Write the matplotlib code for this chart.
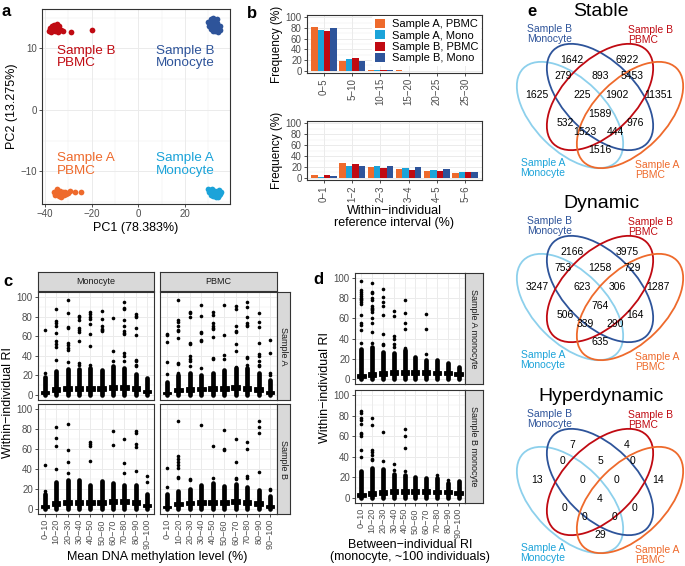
import matplotlib
import numpy as np

matplotlib.use("Agg")
import matplotlib.pyplot as plt
from matplotlib.patches import Ellipse, Patch

W, H = 685, 566

plt.rcParams.update(
    {
        "font.family": ["Liberation Sans", "DejaVu Sans"],
        "axes.linewidth": 0.8,
        "axes.edgecolor": "#333333",
        "xtick.color": "#333333",
        "ytick.color": "#333333",
        "xtick.labelcolor": "#4D4D4D",
        "ytick.labelcolor": "#4D4D4D",
        "xtick.major.size": 2.2,
        "ytick.major.size": 2.2,
        "xtick.major.width": 0.6,
        "ytick.major.width": 0.6,
        "xtick.major.pad": 1.5,
        "ytick.major.pad": 1.5,
    }
)

C_APBMC = "#EE6A2C"
C_AMONO = "#1BA3D9"
C_BPBMC = "#C00A12"
C_BMONO = "#2E549A"
GRID = "#EBEBEB"
STRIP = "#D9D9D9"

# ---- panel a: PCA scores ----
pc_bpbmc_x = [-38.5, -38.0, -37.4, -37.0, -36.6, -36.2, -35.8, -35.3, -35.0, -34.6, -34.2, -33.8, -33.2, -32.5, -29.0, -20.0]
pc_bpbmc_y = [12.9, 13.3, 12.6, 13.6, 13.0, 13.8, 12.8, 13.4, 13.9, 12.7, 13.2, 13.6, 13.0, 12.8, 12.6, 13.0]
pc_bmono_x = [30.0, 30.5, 31.0, 31.2, 31.6, 32.0, 32.3, 32.7, 33.0, 33.3, 33.6, 34.0, 34.3, 34.8, 35.2, 31.8, 33.8]
pc_bmono_y = [14.3, 13.6, 14.7, 13.1, 14.0, 15.0, 13.4, 14.4, 12.8, 13.9, 14.8, 13.2, 12.6, 13.7, 13.0, 12.9, 14.1]
pc_apbmc_x = [-36.2, -35.6, -35.0, -34.5, -34.0, -33.6, -33.0, -32.5, -32.0, -31.5, -31.0, -30.2, -29.5, -27.0, -24.5, -34.8, -33.3]
pc_apbmc_y = [-13.3, -13.8, -13.1, -13.6, -14.0, -13.2, -13.7, -13.4, -13.9, -13.3, -13.6, -13.5, -13.2, -13.4, -13.3, -12.9, -14.1]
pc_amono_x = [29.8, 30.4, 30.9, 31.3, 31.8, 32.2, 32.6, 33.0, 33.4, 33.8, 34.2, 34.6, 35.0, 35.3, 31.5, 33.2, 34.4]
pc_amono_y = [-12.9, -13.4, -13.1, -13.8, -13.3, -14.0, -13.6, -13.2, -13.9, -13.5, -14.1, -13.0, -13.7, -13.4, -12.8, -14.2, -13.9]

# ---- panel b: frequency of within-individual RI ----
b_groups = ["Sample A, PBMC", "Sample A, Mono", "Sample B, PBMC", "Sample B, Mono"]
b_colors = [C_APBMC, C_AMONO, C_BPBMC, C_BMONO]
b_top_bins = ["0\u22125", "5\u221210", "10\u221215", "15\u221220", "20\u221225", "25\u221230"]
b_top_vals = [
    [81, 18, 2, 1.0, 0.4, 0.1],
    [76, 22, 2, 0.6, 0.5, 0.2],
    [75, 24, 2, 0.6, 0.3, 0.0],
    [79, 19, 2, 0.6, 0.5, 0.3],
]
b_bot_bins = ["0\u22121", "1\u22122", "2\u22123", "3\u22124", "4\u22125", "5\u22126"]
b_bot_vals = [
    [5, 27, 20, 16, 12, 8],
    [2, 21, 22, 18, 14, 10],
    [5, 25, 18, 14, 12, 10],
    [3, 21, 22, 19, 16, 10],
]

# ---- panel c: RI by mean methylation level (box summaries) ----
c_bins = ["0\u221210", "10\u221220", "20\u221230", "30\u221240", "40\u221250",
          "50\u221260", "60\u221270", "70\u221280", "80\u221290", "90\u2212100"]
mono_a_q1 = [1, 3, 4, 4, 4, 4, 5, 5, 4, 2]
mono_a_med = [2, 5, 6, 6, 6, 6, 7, 7, 6, 3]
mono_a_q3 = [4, 8, 9, 9, 9, 9, 10, 10, 9, 5]
mono_a_top = [18, 25, 27, 27, 28, 26, 30, 28, 21, 17]
mono_a_out = [[66, 23], [88, 75, 73, 70, 63, 55, 52, 49, 36], [97, 84, 69, 68, 53, 51, 48, 46, 34],
              [81, 80, 76, 68, 66, 64, 55, 33, 31], [85, 83, 80, 77, 72, 62, 50, 31], [86, 78, 70, 67, 66, 65],
              [79, 45, 35], [95, 89, 88, 76, 70, 65, 63, 62, 43, 40, 35], [83, 81, 80, 68, 61, 36, 35, 31, 30], []]

pbmc_a_q1 = [1, 3, 3, 4, 4, 4, 5, 4, 3, 1]
pbmc_a_med = [2, 4, 5, 6, 6, 6, 7, 6, 5, 2]
pbmc_a_q3 = [3, 7, 8, 8, 9, 9, 10, 9, 8, 4]
pbmc_a_top = [13, 20, 22, 20, 22, 26, 28, 28, 23, 15]
pbmc_a_out = [[62, 61, 54, 34, 21], [97, 76, 74, 70, 66, 65, 58, 33, 32, 23], [85, 84, 80, 53, 52, 40, 37, 35, 30],
              [92, 81, 64, 63, 56, 55, 28], [85, 82, 73, 70, 68, 67, 59, 38, 37], [92, 61, 41, 37],
              [91, 88, 70, 65, 64, 52, 45, 29], [95, 90, 80, 73, 71, 70, 39, 38, 31],
              [84, 74, 69, 53, 42, 40, 35, 31, 30], [56, 43, 23, 20]]

mono_b_q1 = [1, 3, 4, 4, 4, 4, 5, 5, 4, 2]
mono_b_med = [2, 5, 6, 6, 6, 6, 7, 7, 6, 3]
mono_b_q3 = [4, 8, 9, 9, 9, 9, 10, 10, 9, 5]
mono_b_top = [15, 27, 29, 29, 24, 28, 26, 24, 24, 15]
mono_b_out = [[44, 18], [82, 71, 63, 40], [85, 59, 47, 36], [], [67, 65, 63, 48], [],
              [78, 64], [70, 46, 36], [78, 76, 65, 62, 38], [33, 27]]

pbmc_b_q1 = [1, 3, 4, 4, 4, 4, 5, 4, 3, 1]
pbmc_b_med = [2, 5, 6, 6, 6, 7, 7, 6, 5, 2]
pbmc_b_q3 = [3, 7, 8, 9, 9, 9, 10, 9, 8, 4]
pbmc_b_top = [15, 18, 20, 24, 26, 23, 25, 22, 19, 13]
pbmc_b_out = [[41, 22], [88, 53, 50, 47, 44, 41, 32, 31], [30, 29], [84], [63, 31], [79, 60, 59],
              [70, 47, 31, 30], [67, 60, 33, 31], [88, 82, 76, 37], [20, 19]]

# ---- panel d: RI by between-individual RI (monocyte) ----
d_a_q1 = [1, 2, 3, 4, 4, 4, 4, 4, 4, 3]
d_a_med = [3, 4, 5, 6, 6, 6, 6, 6, 6, 5]
d_a_q3 = [5, 7, 8, 9, 9, 9, 9, 8, 8, 7]
d_a_top = [30, 32, 27, 26, 29, 22, 19, 19, 16, 12]
d_a_out = [[97, 88, 86, 84, 82, 80, 79, 78, 76, 74, 63, 55, 53, 49, 36],
           [95, 86, 85, 80, 78, 72, 70, 69, 68, 66, 60, 55, 47, 36],
           [89, 81, 76, 72, 63, 45, 35, 34], [67, 62, 43, 40, 35, 32], [78, 65, 55, 50, 31], [],
           [64, 50, 25], [], [], []]
d_b_q1 = [1, 2, 3, 4, 4, 4, 4, 4, 4, 3]
d_b_med = [3, 4, 5, 6, 6, 6, 6, 6, 6, 5]
d_b_q3 = [5, 7, 8, 9, 9, 9, 9, 8, 8, 7]
d_b_top = [26, 29, 28, 23, 22, 20, 19, 19, 14, 16]
d_b_out = [[85, 83, 78, 76, 72, 63, 62, 60, 47, 40], [78, 71, 47, 45, 42, 38, 37], [64, 36], [33, 27],
           [67, 60, 49, 26], [], [], [22], [17], []]

# ---- panel e: Venn region counts (same region order for each diagram) ----
venn_titles = ["Stable", "Dynamic", "Hyperdynamic"]
venn_stable = [1642, 6922, 279, 893, 5453, 1625, 225, 1902, 11351, 1589, 532, 976, 1523, 444, 1516]
venn_dynamic = [2166, 3975, 753, 1258, 729, 3247, 623, 306, 1287, 764, 506, 164, 339, 290, 635]
venn_hyper = [7, 4, 0, 5, 0, 13, 0, 0, 14, 4, 0, 0, 0, 0, 29]


def px_axes(x0, y0, x1, y1):
    return fig.add_axes([x0 / W, 1 - y1 / H, (x1 - x0) / W, (y1 - y0) / H])


def ftext(x, y, s, **kw):
    fig.text(x / W, 1 - y / H, s, **kw)


def gg_style(ax):
    ax.set_facecolor("white")
    ax.set_axisbelow(True)
    ax.grid(True, which="major", color=GRID, lw=0.7)
    ax.grid(True, which="minor", color=GRID, lw=0.35)
    ax.tick_params(labelsize=7)
    ax.tick_params(which="minor", length=0)


def strip(x0, y0, x1, y1, label, rot=0):
    s = px_axes(x0, y0, x1, y1)
    s.set_facecolor(STRIP)
    s.set_xticks([])
    s.set_yticks([])
    s.text(0.5, 0.5, label, ha="center", va="center", rotation=rot, fontsize=6.5,
           color="#1A1A1A", transform=s.transAxes)


def box_panel(ax, q1, med, q3, top, out, ylab=True, xlab=True, labels=None):
    stats = []
    for i in range(len(med)):
        stats.append(dict(med=med[i], q1=q1[i], q3=q3[i], whislo=0, whishi=top[i],
                          fliers=np.array(out[i], dtype=float)))
    ax.bxp(stats, positions=range(1, len(med) + 1), widths=0.75, patch_artist=True,
           showcaps=False, manage_ticks=False,
           boxprops=dict(facecolor="black", edgecolor="black", lw=0.6),
           medianprops=dict(color="black", lw=1),
           whiskerprops=dict(color="black", lw=3.4, solid_capstyle="round"),
           flierprops=dict(marker="o", markersize=2.6, markerfacecolor="black",
                           markeredgecolor="none"))
    gg_style(ax)
    ax.set_xlim(0.4, len(med) + 0.6)
    ax.set_ylim(-5, 105)
    ax.set_xticks(range(1, len(med) + 1))
    ax.set_yticks(range(0, 101, 20))
    ax.set_yticks(range(10, 100, 20), minor=True)
    if xlab:
        ax.set_xticklabels(labels, rotation=90, fontsize=6.5)
    else:
        ax.tick_params(axis="x", length=0, labelbottom=False)
    if not ylab:
        ax.tick_params(axis="y", length=0, labelleft=False)


fig = plt.figure(figsize=(W / 100, H / 100), dpi=100)

# ================= a =================
ax = px_axes(42, 9, 230, 204)
for xs, ys, col in [(pc_bpbmc_x, pc_bpbmc_y, C_BPBMC), (pc_bmono_x, pc_bmono_y, C_BMONO),
                    (pc_apbmc_x, pc_apbmc_y, C_APBMC), (pc_amono_x, pc_amono_y, C_AMONO)]:
    ax.scatter(xs, ys, s=17, color=col, lw=0, zorder=3)
gg_style(ax)
ax.set_xlim(-41.3, 39.3)
ax.set_ylim(-15.3, 16.4)
ax.set_xticks([-40, -20, 0, 20])
ax.set_xticklabels(["\u221240", "\u221220", "0", "20"])
ax.set_xticks([-30, -10, 10, 30], minor=True)
ax.set_yticks([-10, 0, 10])
ax.set_yticklabels(["\u221210", "0", "10"])
ax.set_yticks([-15, -5, 5, 15], minor=True)
ax.set_xlabel("PC1 (78.383%)", fontsize=9, labelpad=2)
ax.set_ylabel("PC2 (13.275%)", fontsize=9, labelpad=2)
lab_kw = dict(fontsize=9.7, ha="left", va="center", linespacing=1.1)
ax.text(-34.8, 8.6, "Sample B\nPBMC", color=C_BPBMC, **lab_kw)
ax.text(7.6, 8.6, "Sample B\nMonocyte", color=C_BMONO, **lab_kw)
ax.text(-34.8, -8.9, "Sample A\nPBMC", color=C_APBMC, **lab_kw)
ax.text(7.6, -8.9, "Sample A\nMonocyte", color=C_AMONO, **lab_kw)

# ================= b =================
for (y0, y1, bins, vals) in [(15, 73, b_top_bins, b_top_vals), (121, 180, b_bot_bins, b_bot_vals)]:
    ax = px_axes(307, y0, 482, y1)
    x = np.arange(len(bins))
    bw = 0.9 / 4
    for k in range(4):
        ax.bar(x - 0.45 + bw * (k + 0.5), vals[k], width=bw, color=b_colors[k], lw=0, zorder=2)
    gg_style(ax)
    ax.set_xlim(-0.6, len(bins) - 0.4)
    ax.set_ylim(-4, 104)
    ax.set_xticks(x)
    ax.set_xticklabels(bins, rotation=90, fontsize=7)
    ax.set_yticks(range(0, 101, 20))
    ax.set_yticks(range(10, 100, 20), minor=True)
    ax.set_ylabel("Frequency (%)", fontsize=8.5, labelpad=2)
    if y0 == 15:
        handles = [Patch(facecolor=c, edgecolor="none") for c in b_colors]
        ax.legend(handles, b_groups, loc="upper right", bbox_to_anchor=(1.0, 1.0), fontsize=8,
                  frameon=True, facecolor="white", edgecolor="none", framealpha=1,
                  handlelength=0.9, handleheight=0.9, handletextpad=0.6, labelspacing=0.08,
                  borderpad=0.25, borderaxespad=0.1)
    else:
        ax.set_xlabel("Within\u2212individual\nreference interval (%)", fontsize=9, labelpad=2,
                      linespacing=1.0)

# ================= c =================
box_panel(px_axes(38, 292, 154, 400), mono_a_q1, mono_a_med, mono_a_q3, mono_a_top, mono_a_out,
          xlab=False)
box_panel(px_axes(160, 292, 277, 400), pbmc_a_q1, pbmc_a_med, pbmc_a_q3, pbmc_a_top, pbmc_a_out,
          ylab=False, xlab=False)
box_panel(px_axes(38, 404, 154, 514), mono_b_q1, mono_b_med, mono_b_q3, mono_b_top, mono_b_out,
          labels=c_bins)
box_panel(px_axes(160, 404, 277, 514), pbmc_b_q1, pbmc_b_med, pbmc_b_q3, pbmc_b_top, pbmc_b_out,
          ylab=False, labels=c_bins)
strip(38, 272, 154, 291, "Monocyte")
strip(160, 272, 277, 291, "PBMC")
strip(277, 292, 290, 400, "Sample A", rot=-90)
strip(277, 404, 290, 514, "Sample B", rot=-90)
ftext(157, 557, "Mean DNA methylation level (%)", fontsize=9, ha="center", va="center")
ftext(8, 403, "Within\u2212individual RI", fontsize=9, ha="center", va="center", rotation=90)

# ================= d =================
box_panel(px_axes(355, 273, 465, 384), d_a_q1, d_a_med, d_a_q3, d_a_top, d_a_out, xlab=False)
box_panel(px_axes(355, 390, 465, 503), d_b_q1, d_b_med, d_b_q3, d_b_top, d_b_out, labels=c_bins)
strip(465, 273, 483, 384, "Sample A monocyte", rot=-90)
strip(465, 390, 483, 503, "Sample B monocyte", rot=-90)
ftext(410, 551, "Between\u2212individual RI\n(monocyte, ~100 individuals)", fontsize=9,
      ha="center", va="center", linespacing=1.0)
ftext(325, 388, "Within\u2212individual RI", fontsize=9, ha="center", va="center", rotation=90)

# ================= e =================
# region label spots (pixel x, pixel y within a 190 px tall block), same order as the counts
venn_spots = [(572, 60), (627, 60), (563, 76), (600, 76), (632, 76), (537, 95), (582, 95),
              (617, 95), (658, 95), (600, 114), (565, 123), (635, 123), (585, 132), (615, 132),
              (600, 150)]
venn_ell = [((570, 115), 45, "#8DD0EC"), ((600, 97), 45, C_BMONO),
            ((600, 97), -45, C_BPBMC), ((630, 115), -45, C_APBMC)]
for top, title, counts in zip([0, 192, 385], venn_titles, [venn_stable, venn_dynamic, venn_hyper]):
    ax = px_axes(505, top, 685, top + 190)
    ax.set_xlim(505, 685)
    ax.set_ylim(190, 0)
    ax.axis("off")
    for (cx, cy), ang, col in venn_ell:
        ax.add_patch(Ellipse((cx, cy), 132, 72, angle=ang, fill=False, ec=col, lw=1.3,
                             clip_on=False))
    for (x, y), n in zip(venn_spots, counts):
        ax.text(x, y, f"{n}", ha="center", va="center", fontsize=7.5, color="black")
    ax.text(601, 12, title, ha="center", va="center", fontsize=14, color="black")
    kw = dict(fontsize=7.5, va="center", linespacing=1.05, clip_on=False)
    ax.text(572, 34, "Sample B\nMonocyte", color=C_BMONO, ha="right", multialignment="right", **kw)
    ax.text(628, 35, "Sample B\nPBMC", color=C_BPBMC, ha="left", **kw)
    ax.text(565, 168, "Sample A\nMonocyte", color=C_AMONO, ha="right", multialignment="right", **kw)
    ax.text(635, 170, "Sample A\nPBMC", color=C_APBMC, ha="left", **kw)

# panel letters
for x, y, s in [(2, 11, "a"), (247, 13, "b"), (3, 282, "c"), (313, 280, "d"), (527, 12, "e")]:
    ftext(x, y, s, fontsize=12, fontweight="bold", ha="left", va="center")

fig.savefig("out.png", dpi=100)
